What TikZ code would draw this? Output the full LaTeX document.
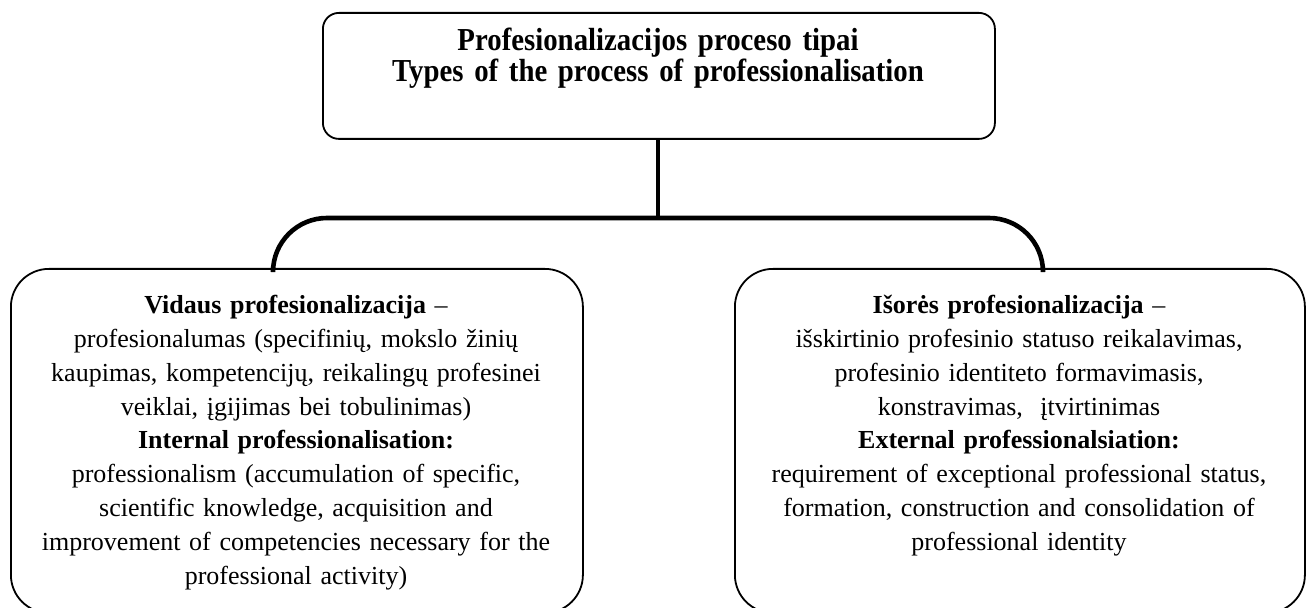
\documentclass[tikz,border=0pt]{standalone}
\usepackage{fontspec}
\setmainfont{Liberation Serif}
\newfontfamily\titlefont[FakeStretch=0.9]{Liberation Serif}
\begin{document}
\begin{tikzpicture}[x=0.5pt,y=-0.5pt,
  box/.style={draw, line width=0.9pt, rounded corners=19pt, minimum width=0pt, inner sep=0pt, anchor=north west},
  conn/.style={line width=2.3pt},
  body/.style={text width=280pt, align=center, inner sep=0pt, anchor=north,
    font=\fontsize{13}{16.9}\selectfont},
  ttl/.style={text width=330pt, align=center, inner sep=0pt,
    font=\titlefont\bfseries\fontsize{16}{14.6}\selectfont}]
\useasboundingbox (0,0) rectangle (1306,608);
% boxes
\node[box, rounded corners=8pt, minimum width=336pt, minimum height=63pt] (top) at (322,12) {};
\node[box, minimum width=286pt, minimum height=172pt] (left) at (10,268) {};
\node[box, minimum width=285pt, minimum height=172pt] (right) at (734,268) {};
% texts
\node[ttl] (ttext) at (658,58) {Profesionalizacijos proceso tipai\\Types of the process of professionalisation};
\node[body] (ltext) at (296,295) {\textbf{Vidaus profesionalizacija} --\\
profesionalumas (specifinių, mokslo žinių\\
kaupimas, kompetencijų, reikalingų profesinei\\
veiklai, įgijimas bei tobulinimas)\\
\textbf{Internal professionalisation:}\\
professionalism (accumulation of specific,\\
scientific knowledge, acquisition and\\
improvement of competencies necessary for the\\
professional activity)};
\node[body] (rtext) at (1019,295) {\textbf{Išorės profesionalizacija} --\\
išskirtinio profesinio statuso reikalavimas,\\
profesinio identiteto formavimasis,\\
konstravimas,\ \ įtvirtinimas\\
\textbf{External professionalsiation:}\\
requirement of exceptional professional status,\\
formation, construction and consolidation of\\
professional identity};
% connectors
\coordinate (j) at (658,218);
\coordinate (la) at (273,268);
\coordinate (ra) at (1043,268);
\draw[conn] (top.south -| j) -- (j);
\draw[conn, rounded corners=27pt] (left.north -| la) -- (la |- j) -- (ra |- j) -- (right.north -| ra);
\end{tikzpicture}
\end{document}
